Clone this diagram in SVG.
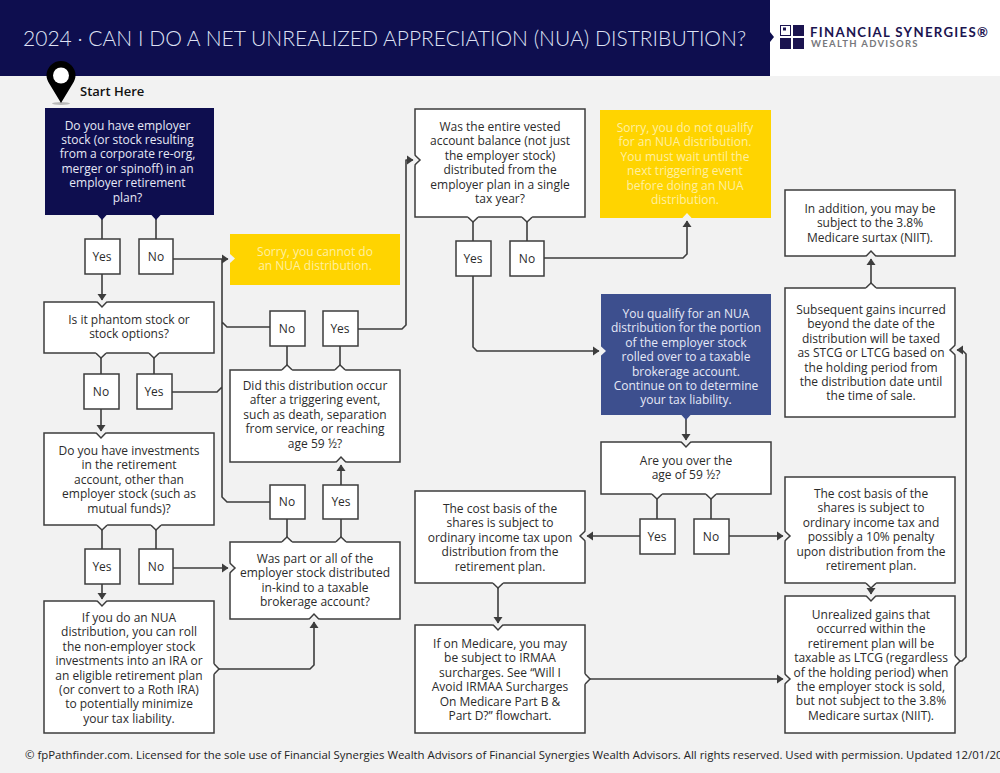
<svg xmlns="http://www.w3.org/2000/svg" width="1000" height="773" viewBox="0 0 1000 773">
<style>
text{font-family:"Open Sans","Liberation Sans",sans-serif}
.b{fill:#fff;stroke:#3d3d3d;stroke-width:1.5}
.t{font-size:12px;fill:#2b2b2b;text-anchor:middle}
.w{fill:#e6e8f6}
.y{fill:#fff0a0}
.c{fill:none;stroke:#3d3d3d;stroke-width:1.6;stroke-linejoin:round}
.a{marker-end:url(#ar)}
.s{fill:none;stroke:#3d3d3d;stroke-width:1.5}
</style>
<defs>
<marker id="ar" markerUnits="userSpaceOnUse" markerWidth="10" markerHeight="10" refX="7" refY="5" orient="auto"><path d="M1 0.5L7.5 5L1 9.500Z" fill="#3d3d3d"/></marker>
<g id="out"><path d="M-5.500 1L0-5L5.500 1Z" fill="#fff"/><path class="s" d="M-5-.2L0-5L5-.2"/></g>
<g id="in"><path d="M-5.500-1L0 5.200L5.500-1Z" fill="#f2f2f2"/><path class="s" d="M-5-.2L0 5L5-.2"/></g>
<path id="nv" d="M-5 .5L0-5L5 .5Z" fill="#0e0e4f"/>
<path id="gin" d="M-5.500-1L0 5L5.500-1Z" fill="#f2f2f2"/>
</defs>
<rect width="1000" height="773" fill="#f2f2f2"/>
<g id="header">
<rect width="1000" height="76" fill="#fff"/>
<path d="M0 0H770V32L774 37L770 42V76H0Z" fill="#0e0e4f"/>
<text x="23" y="46" font-size="21.050" font-weight="300" fill="#dfe2f5" style="font-family:Lato,'Open Sans',sans-serif">2024 · CAN I DO A NET UNREALIZED APPRECIATION (NUA) DISTRIBUTION?</text>
</g>
<g id="logo">
<path d="M780 25h11v11h-11zM793 25h11v11h-11zM780 38h11v11h-11zM793 38h11v11h-11z" fill="#1b1450"/>
<rect x="780.500" y="25.500" width="10" height="10" fill="#fff" stroke="#1b1450"/>
<rect x="783" y="27.500" width="3" height="3" fill="#1b1450"/>
<text x="810" y="37" font-size="13.200" font-weight="700" fill="#1b1450" letter-spacing="1.300" style="font-family:Lato,sans-serif">FINANCIAL SYNERGIES®</text>
<text x="811" y="46.500" font-size="9.500" font-weight="700" fill="#77787c" letter-spacing="1.300" style="font-family:Lato,sans-serif">WEALTH ADVISORS</text>
</g>
<g id="start-pin">
<ellipse cx="61" cy="103.500" rx="9" ry="1.500" fill="#b9b9b9"/>
<path d="M61 103L49.500 84C47.500 81 46.500 78 46.500 75.500A14.500 14.500 0 0 1 75.500 75.500C75.500 78 74.500 81 72.500 84Z" fill="#000"/>
<circle cx="61" cy="75.500" r="8" fill="#fff"/>
<text x="80" y="96" font-size="13" font-weight="600" fill="#111">Start Here</text>
</g>
<g id="connectors">
<path class="c" d="M102 215V239M156 215V239M101 353V374M154 353V374M102 525V549M156 525V549M287 542V519M341 542V519M287 370V346M340 370V346M473 217V241M527 217V241M657 494V519M711 494V519"/>
<path class="c a" d="M102 274V300"/>
<path class="c a" d="M173 259H228"/>
<path class="c" d="M222 259V497L227 502H270M222 322L227 327H270M172 392H217L222 387"/>
<path class="c a" d="M101 409V431"/>
<path class="c a" d="M102 584V599"/>
<path class="c a" d="M173 568H228"/>
<path class="c a" d="M214 669H310L314 665V622"/>
<path class="c a" d="M341 485V465"/>
<path class="c a" d="M358 329H402L406 325V160H413"/>
<path class="c a" d="M473 276V347L477 351H599"/>
<path class="c a" d="M544 258H683L687 254V221"/>
<path class="c a" d="M686 415V440"/>
<path class="c a" d="M640 536H587"/>
<path class="c a" d="M729 536H783"/>
<path class="c a" d="M498 583V623"/>
<path class="c a" d="M585 679H783"/>
<path class="c a" d="M871 583V594"/>
<path class="c a" d="M955 661H962L966 657V354L962 350H957"/>
<path class="c a" d="M871 288V259"/>
</g>
<g id="start"><rect x="45" y="108" width="169" height="107" fill="#0e0e4f"/><use href="#nv" transform="translate(102 215) rotate(180)"/><use href="#nv" transform="translate(156 215) rotate(180)"/>
<text class="t w" x="127.500" y="129.500">Do you have employer<tspan x="127.500" dy="14.400">stock (or stock resulting</tspan><tspan x="127.500" dy="14.400">from a corporate re-org,</tspan><tspan x="127.500" dy="14.400">merger or spinoff) in an</tspan><tspan x="127.500" dy="14.400">employer retirement</tspan><tspan x="127.500" dy="14.400">plan?</tspan></text></g>
<g id="q1-yes"><rect class="b" x="85" y="239" width="35" height="35"/><text class="t" x="102" y="261">Yes</text></g>
<g id="q1-no"><rect class="b" x="139" y="239" width="34" height="35"/><text class="t" x="156" y="261">No</text></g>
<g id="phantom"><rect class="b" x="44" y="302" width="170" height="51"/><use href="#in" transform="translate(102 302)"/><use href="#out" transform="translate(101 353) rotate(180)"/><use href="#out" transform="translate(154 353) rotate(180)"/>
<text class="t" x="129" y="324">Is it phantom stock or<tspan x="129" dy="14.400">stock options?</tspan></text></g>
<g id="q2-no"><rect class="b" x="84" y="374" width="35" height="35"/><text class="t" x="101" y="396">No</text></g>
<g id="q2-yes"><rect class="b" x="137" y="374" width="35" height="35"/><text class="t" x="154" y="396">Yes</text></g>
<g id="investments"><rect class="b" x="44" y="433" width="170" height="92"/><use href="#in" transform="translate(101 433)"/><use href="#out" transform="translate(102 525) rotate(180)"/><use href="#out" transform="translate(156 525) rotate(180)"/>
<text class="t" x="129" y="455">Do you have investments<tspan x="129" dy="14.400">in the retirement</tspan><tspan x="129" dy="14.400">account, other than</tspan><tspan x="129" dy="14.400">employer stock (such as</tspan><tspan x="129" dy="14.400">mutual funds)?</tspan></text></g>
<g id="q3-yes"><rect class="b" x="85" y="549" width="35" height="35"/><text class="t" x="102" y="571">Yes</text></g>
<g id="q3-no"><rect class="b" x="139" y="549" width="34" height="35"/><text class="t" x="156" y="571">No</text></g>
<g id="roll"><rect class="b" x="44" y="601" width="170" height="132"/><use href="#in" transform="translate(102 601)"/><use href="#out" transform="translate(214 669) rotate(90)"/>
<text class="t" x="129" y="622">If you do an NUA<tspan x="129" dy="14.400">distribution, you can roll</tspan><tspan x="129" dy="14.400">the non-employer stock</tspan><tspan x="129" dy="14.400">investments into an IRA or</tspan><tspan x="129" dy="14.400">an eligible retirement plan</tspan><tspan x="129" dy="14.400">(or convert to a Roth IRA)</tspan><tspan x="129" dy="14.400">to potentially minimize</tspan><tspan x="129" dy="14.400">your tax liability.</tspan></text></g>
<g id="sorry1"><rect x="230" y="234" width="170" height="51" fill="#ffd400"/><use href="#gin" transform="translate(230 258.500) rotate(-90)"/>
<text class="t y" x="315" y="256">Sorry, you cannot do<tspan x="315" dy="14.400">an NUA distribution.</tspan></text></g>
<g id="q5-no"><rect class="b" x="270" y="311" width="35" height="35"/><text class="t" x="287" y="333">No</text></g>
<g id="q5-yes"><rect class="b" x="323" y="311" width="35" height="35"/><text class="t" x="340" y="333">Yes</text></g>
<g id="triggering"><rect class="b" x="230" y="370" width="170" height="92"/><use href="#out" transform="translate(287 370)"/><use href="#out" transform="translate(340 370)"/><use href="#in" transform="translate(341 462) rotate(180)"/>
<text class="t" x="315" y="390">Did this distribution occur<tspan x="315" dy="14.400">after a triggering event,</tspan><tspan x="315" dy="14.400">such as death, separation</tspan><tspan x="315" dy="14.400">from service, or reaching</tspan><tspan x="315" dy="14.400">age 59 ½?</tspan></text></g>
<g id="q4-no"><rect class="b" x="270" y="485" width="35" height="34"/><text class="t" x="287" y="506">No</text></g>
<g id="q4-yes"><rect class="b" x="323" y="485" width="35" height="34"/><text class="t" x="341" y="506">Yes</text></g>
<g id="in-kind"><rect class="b" x="230" y="542" width="170" height="77"/><use href="#out" transform="translate(287 542)"/><use href="#out" transform="translate(341 542)"/><use href="#in" transform="translate(230 568) rotate(-90)"/><use href="#in" transform="translate(314 619) rotate(180)"/>
<text class="t" x="315" y="563">Was part or all of the<tspan x="315" dy="14.400">employer stock distributed</tspan><tspan x="315" dy="14.400">in-kind to a taxable</tspan><tspan x="315" dy="14.400">brokerage account?</tspan></text></g>
<g id="entire"><rect class="b" x="415" y="109" width="170" height="108"/><use href="#in" transform="translate(415 160) rotate(-90)"/><use href="#out" transform="translate(473 217) rotate(180)"/><use href="#out" transform="translate(527 217) rotate(180)"/>
<text class="t" x="500" y="131">Was the entire vested<tspan x="500" dy="14.400">account balance (not just</tspan><tspan x="500" dy="14.400">the employer stock)</tspan><tspan x="500" dy="14.400">distributed from the</tspan><tspan x="500" dy="14.400">employer plan in a single</tspan><tspan x="500" dy="14.400">tax year?</tspan></text></g>
<g id="q6-yes"><rect class="b" x="456" y="241" width="35" height="35"/><text class="t" x="473" y="263">Yes</text></g>
<g id="q6-no"><rect class="b" x="510" y="241" width="34" height="35"/><text class="t" x="527" y="263">No</text></g>
<g id="sorry2"><rect x="600" y="110" width="171" height="108" fill="#ffd400"/><use href="#gin" transform="translate(687 218) rotate(180)"/>
<text class="t y" x="685" y="132">Sorry, you do not qualify<tspan x="685" dy="14.400">for an NUA distribution.</tspan><tspan x="685" dy="14.400">You must wait until the</tspan><tspan x="685" dy="14.400">next triggering event</tspan><tspan x="685" dy="14.400">before doing an NUA</tspan><tspan x="685" dy="14.400">distribution.</tspan></text></g>
<g id="qualify"><rect x="601" y="294" width="170" height="121" fill="#3d4f8e"/><use href="#gin" transform="translate(601 351) rotate(-90)"/><path d="M681 414.500L686 420L691 414.500Z" fill="#3d4f8e"/>
<text class="t w" x="686" y="318">You qualify for an NUA<tspan x="686" dy="14.400">distribution for the portion</tspan><tspan x="686" dy="14.400">of the employer stock</tspan><tspan x="686" dy="14.400">rolled over to a taxable</tspan><tspan x="686" dy="14.400">brokerage account.</tspan><tspan x="686" dy="14.400">Continue on to determine</tspan><tspan x="686" dy="14.400">your tax liability.</tspan></text></g>
<g id="age"><rect class="b" x="601" y="442" width="170" height="52"/><use href="#in" transform="translate(686 442)"/><use href="#out" transform="translate(657 494) rotate(180)"/><use href="#out" transform="translate(711 494) rotate(180)"/>
<text class="t" x="686" y="465">Are you over the<tspan x="686" dy="14.400">age of 59 ½?</tspan></text></g>
<g id="q7-yes"><rect class="b" x="640" y="519" width="35" height="35"/><text class="t" x="657" y="541">Yes</text></g>
<g id="q7-no"><rect class="b" x="694" y="519" width="35" height="35"/><text class="t" x="711" y="541">No</text></g>
<g id="cost-left"><rect class="b" x="415" y="491" width="170" height="92"/><use href="#in" transform="translate(585 536) rotate(90)"/><use href="#out" transform="translate(498 583) rotate(180)"/>
<text class="t" x="500" y="513">The cost basis of the<tspan x="500" dy="14.400">shares is subject to</tspan><tspan x="500" dy="14.400">ordinary income tax upon</tspan><tspan x="500" dy="14.400">distribution from the</tspan><tspan x="500" dy="14.400">retirement plan.</tspan></text></g>
<g id="medicare"><rect class="b" x="415" y="625" width="170" height="108"/><use href="#in" transform="translate(498 625)"/><use href="#out" transform="translate(585 679) rotate(90)"/>
<text class="t" x="500" y="648">If on Medicare, you may<tspan x="500" dy="14.400">be subject to IRMAA</tspan><tspan x="500" dy="14.400">surcharges. See “Will I</tspan><tspan x="500" dy="14.400">Avoid IRMAA Surcharges</tspan><tspan x="500" dy="14.400">On Medicare Part B &amp;</tspan><tspan x="500" dy="14.400">Part D?” flowchart.</tspan></text></g>
<g id="cost-right"><rect class="b" x="785" y="477" width="170" height="106"/><use href="#in" transform="translate(785 536) rotate(-90)"/><use href="#out" transform="translate(871 583) rotate(180)"/>
<text class="t" x="871" y="498">The cost basis of the<tspan x="871" dy="14.400">shares is subject to</tspan><tspan x="871" dy="14.400">ordinary income tax and</tspan><tspan x="871" dy="14.400">possibly a 10% penalty</tspan><tspan x="871" dy="14.400">upon distribution from the</tspan><tspan x="871" dy="14.400">retirement plan.</tspan></text></g>
<g id="unrealized"><rect class="b" x="785" y="596" width="170" height="137"/><use href="#in" transform="translate(871 596)"/><use href="#in" transform="translate(785 679) rotate(-90)"/><use href="#out" transform="translate(955 661) rotate(90)"/>
<text class="t" x="871" y="619">Unrealized gains that<tspan x="871" dy="14.400">occurred within the</tspan><tspan x="871" dy="14.400">retirement plan will be</tspan><tspan x="871" dy="14.400">taxable as LTCG (regardless</tspan><tspan x="871" dy="14.400">of the holding period) when</tspan><tspan x="871" dy="14.400">the employer stock is sold,</tspan><tspan x="871" dy="14.400">but not subject to the 3.8%</tspan><tspan x="871" dy="14.400">Medicare surtax (NIIT).</tspan></text></g>
<g id="subsequent"><rect class="b" x="785" y="288" width="170" height="129"/><use href="#in" transform="translate(955 350) rotate(90)"/><use href="#out" transform="translate(871 288)"/>
<text class="t" x="871" y="314">Subsequent gains incurred<tspan x="871" dy="14.400">beyond the date of the</tspan><tspan x="871" dy="14.400">distribution will be taxed</tspan><tspan x="871" dy="14.400">as STCG or LTCG based on</tspan><tspan x="871" dy="14.400">the holding period from</tspan><tspan x="871" dy="14.400">the distribution date until</tspan><tspan x="871" dy="14.400">the time of sale.</tspan></text></g>
<g id="niit"><rect class="b" x="785" y="190" width="170" height="66"/><use href="#in" transform="translate(871 256) rotate(180)"/>
<text class="t" x="870" y="213">In addition, you may be<tspan x="870" dy="14.400">subject to the 3.8%</tspan><tspan x="870" dy="14.400">Medicare surtax (NIIT).</tspan></text></g>
<text x="25" y="759" font-size="11.400" fill="#222">© fpPathfinder.com. Licensed for the sole use of Financial Synergies Wealth Advisors of Financial Synergies Wealth Advisors. All rights reserved. Used with permission. Updated 12/01/20</text>
</svg>
